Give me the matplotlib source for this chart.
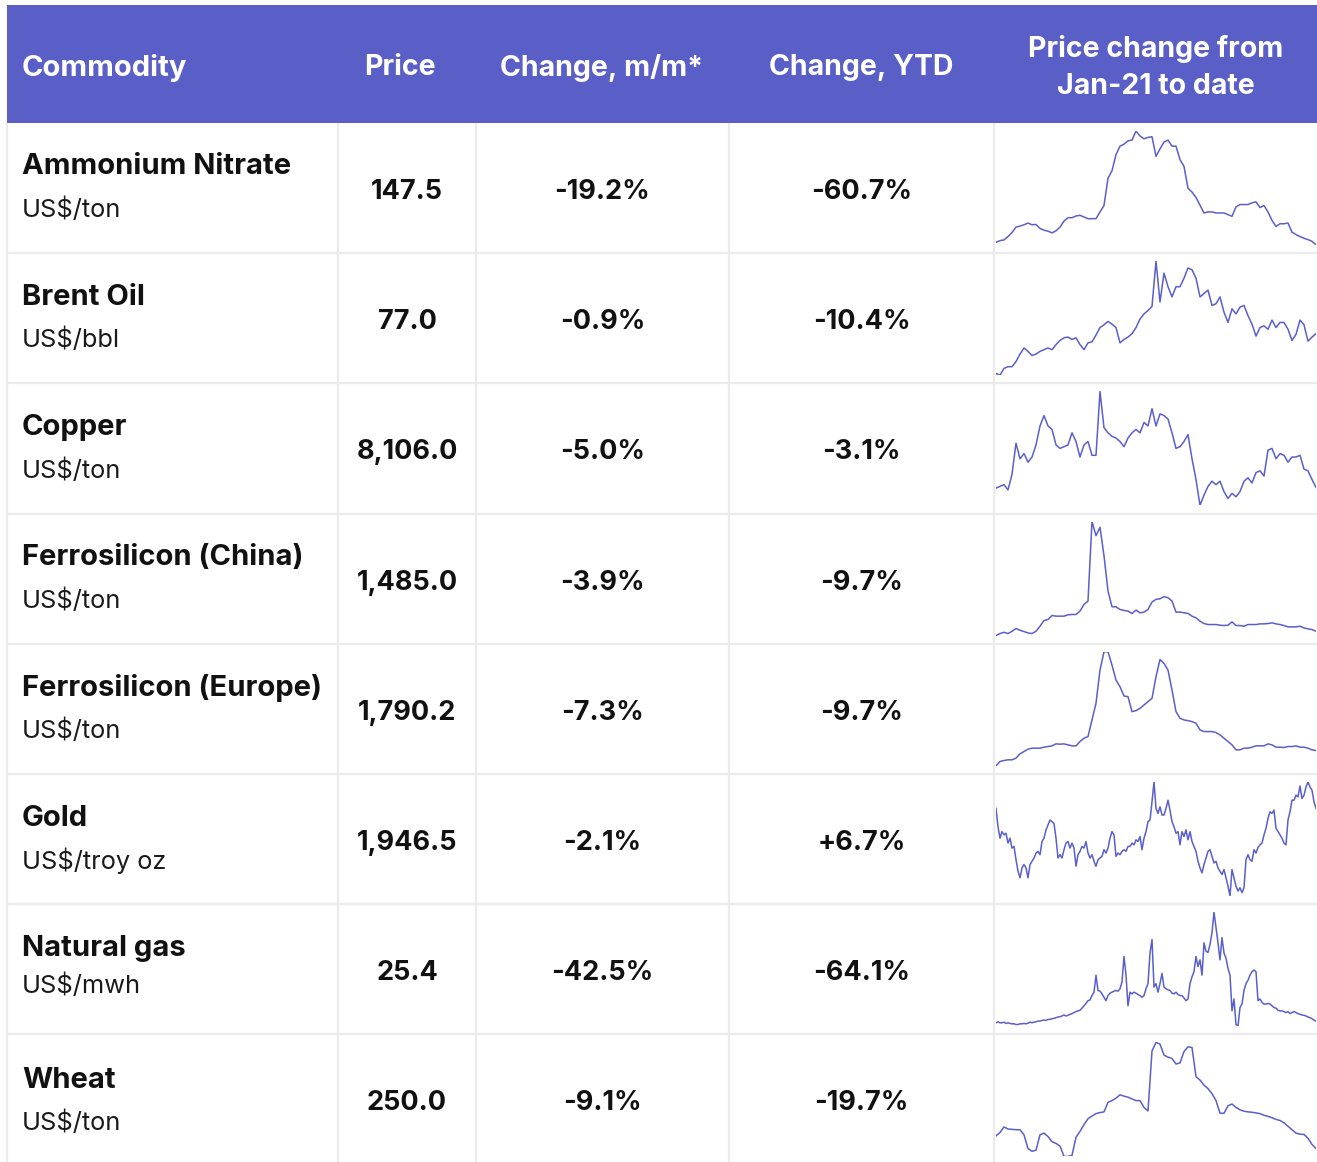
import numpy as np
import matplotlib
matplotlib.use("Agg")
import matplotlib.pyplot as plt
from matplotlib.patches import Rectangle

# ---------------- data ----------------
headers = ["Commodity", "Price", "Change, m/m*", "Change, YTD", "Price change from\nJan-21 to date"]
commodities = ["Ammonium Nitrate", "Brent Oil", "Copper", "Ferrosilicon (China)",
               "Ferrosilicon (Europe)", "Gold", "Natural gas", "Wheat"]
units = ["US$/ton", "US$/bbl", "US$/ton", "US$/ton", "US$/ton", "US$/troy oz", "US$/mwh", "US$/ton"]
prices = [147.5, 77.0, 8106.0, 1485.0, 1790.2, 1946.5, 25.4, 250.0]
change_mm = [-19.2, -0.9, -5.0, -3.9, -7.3, -2.1, -42.5, -9.1]
change_ytd = [-60.7, -10.4, -3.1, -9.7, -9.7, 6.7, -64.1, -19.7]

# sparkline series (relative price level, Jan-21 to date)
ammonium_nitrate = [25, 30, 32, 42, 54, 70, 73, 77, 82, 77,
                    78, 66, 61, 58, 53, 59, 70, 88, 98, 98,
                    103, 105, 100, 95, 95, 95, 115, 134, 215, 237,
                    285, 310, 316, 326, 328, 355, 340, 332, 336, 338,
                    280, 302, 322, 328, 310, 310, 270, 250, 185, 174,
                    158, 135, 112, 115, 115, 112, 112, 112, 107, 102,
                    130, 137, 137, 137, 142, 145, 128, 134, 115, 90,
                    72, 80, 80, 82, 55, 48, 42, 37, 33, 28, 17]
brent_oil = [25, 20, 40, 45, 45, 60, 82, 100, 90, 78,
             82, 90, 95, 100, 95, 110, 122, 130, 132, 125,
             130, 110, 95, 115, 118, 138, 160, 168, 178, 170,
             160, 115, 125, 132, 142, 160, 185, 200, 210, 222,
             355, 235, 320, 280, 250, 280, 280, 305, 335, 330,
             305, 250, 260, 270, 225, 230, 250, 205, 175, 215,
             200, 220, 225, 195, 170, 135, 160, 165, 155, 182,
             160, 175, 175, 155, 122, 140, 182, 168, 120, 132, 142]
copper = [80, 85, 90, 75, 120, 210, 165, 180, 155, 170,
          205, 260, 290, 260, 250, 205, 195, 200, 205, 240,
          215, 170, 205, 215, 175, 175, 360, 255, 240, 230,
          225, 215, 200, 225, 240, 250, 240, 270, 260, 310,
          260, 295, 290, 280, 240, 195, 200, 215, 235, 165,
          105, 30, 60, 85, 100, 90, 100, 70, 50, 65,
          55, 70, 100, 110, 95, 125, 130, 115, 190, 195,
          165, 180, 175, 155, 170, 170, 175, 135, 130, 105, 82]
ferrosilicon_china = [22, 28, 32, 28, 35, 43, 38, 34, 30, 28,
                      35, 50, 67, 70, 82, 80, 80, 80, 84, 85,
                      85, 95, 115, 125, 362, 320, 345, 260, 155, 108,
                      108, 100, 97, 95, 88, 98, 90, 92, 100, 122,
                      130, 132, 138, 135, 125, 92, 92, 90, 88, 80,
                      75, 65, 58, 55, 55, 55, 53, 52, 53, 63,
                      52, 52, 50, 55, 55, 55, 57, 57, 58, 60,
                      57, 55, 52, 48, 48, 48, 50, 45, 42, 40, 35]
ferrosilicon_europe = [22, 35, 38, 40, 40, 45, 58, 65, 72, 75,
                       75, 75, 78, 80, 82, 88, 87, 88, 85, 82,
                       82, 95, 105, 110, 160, 210, 310, 365, 365, 325,
                       280, 260, 232, 230, 185, 188, 195, 205, 215, 225,
                       290, 342, 330, 310, 250, 185, 165, 160, 158, 155,
                       150, 130, 125, 125, 125, 122, 115, 105, 95, 85,
                       70, 70, 75, 75, 78, 82, 82, 82, 88, 85,
                       78, 78, 77, 80, 80, 82, 78, 78, 75, 70, 68]
gold = [290, 235, 200, 220, 210, 215, 185, 200, 170, 175,
        135, 100, 80, 110, 120, 110, 80, 120, 130, 140,
        155, 160, 150, 190, 200, 225, 240, 255, 250, 245,
        200, 140, 150, 140, 165, 185, 190, 170, 185, 170,
        115, 150, 160, 175, 170, 190, 155, 140, 150, 130,
        115, 135, 140, 145, 165, 155, 170, 200, 220, 210,
        145, 155, 150, 160, 165, 160, 175, 175, 185, 180,
        195, 190, 205, 165, 200, 220, 250, 255, 310, 370,
        290, 275, 295, 270, 270, 290, 315, 285, 250, 235,
        215, 220, 180, 220, 205, 225, 195, 220, 190, 175,
        160, 130, 110, 95, 120, 140, 160, 165, 145, 125,
        130, 110, 100, 90, 105, 80, 55, 25, 105, 80,
        55, 40, 50, 35, 50, 135, 150, 135, 130, 165,
        155, 172, 180, 185, 210, 230, 260, 280, 275, 285,
        230, 220, 210, 200, 185, 180, 255, 280, 315, 315,
        330, 325, 358, 320, 330, 355, 370, 355, 345, 310, 290]
natural_gas = [45, 48, 45, 45, 47, 43, 45, 43, 42, 42,
               40, 40, 42, 42, 43, 42, 44, 47, 45, 47,
               48, 50, 50, 52, 53, 52, 55, 55, 57, 58,
               60, 62, 63, 65, 68, 65, 67, 70, 72, 75,
               78, 80, 82, 88, 95, 102, 110, 112, 125, 135,
               185, 140, 138, 130, 120, 110, 125, 132, 135, 138,
               140, 138, 145, 165, 240, 185, 95, 135, 130, 135,
               132, 128, 125, 120, 125, 145, 160, 250, 290, 150,
               160, 135, 160, 190, 150, 145, 142, 140, 132, 130,
               135, 128, 125, 125, 118, 110, 115, 160, 180, 195,
               240, 210, 230, 185, 280, 255, 252, 275, 310, 370,
               325, 280, 230, 295, 250, 235, 205, 185, 80, 115,
               40, 35, 90, 100, 140, 160, 170, 185, 195, 200,
               195, 110, 115, 105, 100, 100, 102, 100, 95, 90,
               88, 82, 80, 80, 78, 75, 78, 72, 75, 78,
               75, 72, 70, 68, 67, 65, 62, 60, 57, 53, 50]
wheat = [92, 102, 118, 112, 111, 110, 110, 95, 55, 47,
         50, 95, 100, 90, 75, 70, 62, 32, 32, 35,
         88, 105, 125, 142, 150, 157, 160, 162, 190, 195,
         202, 212, 208, 205, 200, 195, 195, 175, 165, 340,
         365, 360, 328, 322, 318, 302, 305, 338, 352, 350,
         265, 255, 240, 230, 215, 195, 158, 158, 180, 185,
         175, 168, 164, 162, 161, 159, 157, 152, 149, 145,
         140, 137, 130, 120, 110, 100, 97, 96, 85, 67, 55]
series = [ammonium_nitrate, brent_oil, copper, ferrosilicon_china,
          ferrosilicon_europe, gold, natural_gas, wheat]

# ---------------- style ----------------
W, H = 1317, 1162
HEADER_BG = "#5A5EC7"
GRID = "#EBEBEB"
LINE = "#5A5FCB"
TEXT = "#111111"
FONT = ["Inter", "DejaVu Sans"]
plt.rcParams["font.family"] = FONT

fig = plt.figure(figsize=(W / 100, H / 100), dpi=100)
ax = fig.add_axes([0, 0, 1, 1])
ax.set_xlim(0, W)
ax.set_ylim(H, 0)
ax.axis("off")

col_edges = [7, 338, 476, 729, 994, W]
header_top, header_bottom = 5, 123
row_h = 130.2
name_dy = [44, 44, 44, 44, 44, 44, 44, 46]
unit_dy = [87, 87, 87, 87, 87, 87, 82, 88]

# header
ax.add_patch(Rectangle((col_edges[0], header_top), W - col_edges[0],
                       header_bottom - header_top, color=HEADER_BG, lw=0))
hdr_y = (header_top + header_bottom) / 2 + 3.5
ax.text(22, hdr_y, headers[0], color="white", fontsize=21, fontweight="bold",
        ha="left", va="center")
hdr_cx = [400, 602, 861, 1156]
for cx, h in zip(hdr_cx, headers[1:]):
    ax.text(cx, hdr_y, h, color="white", fontsize=20.5, fontweight="bold",
            ha="center", va="center", linespacing=1.5)

# grid lines
for x in col_edges[:-1]:
    ax.plot([x, x], [header_bottom, H], color=GRID, lw=1.6, solid_capstyle="butt")
for i in range(1, len(commodities)):
    y = header_bottom + i * row_h
    ax.plot([col_edges[0], W], [y, y], color=GRID, lw=1.6, solid_capstyle="butt")

# rows
for i, name in enumerate(commodities):
    top = header_bottom + i * row_h
    ax.text(22, top + name_dy[i], name, color=TEXT, fontsize=21, fontweight="bold",
            ha="left", va="center")
    ax.text(22, top + unit_dy[i], units[i], color="#1a1a1a", fontsize=18.3, fontweight="normal",
            ha="left", va="center")
    vy = top + 69
    ax.text((col_edges[1] + col_edges[2]) / 2, vy, f"{prices[i]:,.1f}", color=TEXT,
            fontsize=19.5, fontweight="bold", ha="center", va="center")
    ax.text((col_edges[2] + col_edges[3]) / 2, vy, f"{change_mm[i]:+.1f}%", color=TEXT,
            fontsize=19.5, fontweight="bold", ha="center", va="center")
    ax.text((col_edges[3] + col_edges[4]) / 2, vy, f"{change_ytd[i]:+.1f}%", color=TEXT,
            fontsize=19.5, fontweight="bold", ha="center", va="center")

    # sparkline
    s_left, s_right = 996, 1316
    s_top, s_bot = top + 8, top + 122
    sax = fig.add_axes([s_left / W, 1 - s_bot / H, (s_right - s_left) / W, (s_bot - s_top) / H])
    vals = np.asarray(series[i], dtype=float)
    t = np.arange(len(vals))
    sax.plot(t, vals, color=LINE, lw=1.1)
    sax.set_xlim(t[0], t[-1])
    sax.set_ylim(vals.min(), vals.max())
    sax.axis("off")
    sax.patch.set_alpha(0)

fig.savefig("out.png", dpi=100)
